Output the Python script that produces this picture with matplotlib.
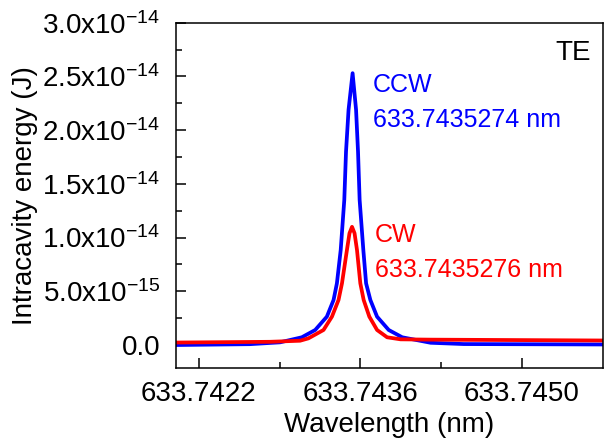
import matplotlib
matplotlib.use("Agg")
import matplotlib.pyplot as plt
from matplotlib.ticker import FixedLocator

plt.rcParams['font.family'] = ['Liberation Sans', 'DejaVu Sans']
plt.rcParams['mathtext.fontset'] = 'custom'
plt.rcParams['mathtext.rm'] = 'Liberation Sans'
plt.rcParams['mathtext.it'] = 'Liberation Sans'

# CCW (blue) curve
ccw_wl = [633.742000, 633.742643, 633.742904, 633.743093, 633.743209, 633.743310,
          633.743368, 633.743397, 633.743430, 633.743461, 633.743476, 633.743498,
          633.743533, 633.743563, 633.743580, 633.743594, 633.743626, 633.743650,
          633.743687, 633.743745, 633.743846, 633.743963, 633.744209, 633.744496,
          633.745722]
ccw_e = [0.0, 0.8e-16, 2.5e-16, 7.2e-16, 1.40e-15, 2.64e-15,
         4.19e-15, 5.74e-15, 8.85e-15, 1.35e-14, 1.80e-14, 2.19e-14,
         2.53e-14, 2.19e-14, 1.80e-14, 1.35e-14, 8.85e-15, 5.74e-15,
         4.19e-15, 2.64e-15, 1.40e-15, 7.2e-16, 2.1e-16, 0.9e-16,
         0.5e-16]

# CW (red) curve
cw_wl = [633.742000, 633.742817, 633.743078, 633.743150, 633.743281, 633.743354,
         633.743411, 633.743441, 633.743484, 633.743506, 633.743528, 633.743550,
         633.743571, 633.743600, 633.743629, 633.743678, 633.743745, 633.743832,
         633.743948, 633.744209, 633.745722]
cw_e = [2.3e-16, 3.0e-16, 4.0e-16, 6.2e-16, 1.40e-15, 2.64e-15,
        4.19e-15, 5.74e-15, 8.85e-15, 1.04e-14, 1.10e-14, 1.04e-14,
        8.85e-15, 5.74e-15, 4.19e-15, 2.64e-15, 1.40e-15, 7.2e-16,
        5.3e-16, 5.0e-16, 4.2e-16]

x_major = [633.7422, 633.7436, 633.7450]
x_minor = [633.7429, 633.7443]
x_labels = ['633.7422', '633.7436', '633.7450']
y_major = [0, 0.5e-14, 1.0e-14, 1.5e-14, 2.0e-14, 2.5e-14, 3.0e-14]
y_minor = [0.25e-14, 0.75e-14, 1.25e-14, 1.75e-14, 2.25e-14, 2.75e-14]
y_labels = ['0.0', r'5.0x10$^{-15}$', r'1.0x10$^{-14}$', r'1.5x10$^{-14}$',
            r'2.0x10$^{-14}$', r'2.5x10$^{-14}$', r'3.0x10$^{-14}$']

fig = plt.figure(figsize=(6.1, 4.45), dpi=100)
ax = fig.add_axes([0.288, 0.173, 0.700, 0.776])

ax.plot(ccw_wl, ccw_e, color='#0000ff', lw=2.7, solid_joinstyle='round')
ax.plot(cw_wl, cw_e, color='#ff0000', lw=2.7, solid_joinstyle='round')

ax.set_xlim(633.7420, 633.7457)
ax.set_ylim(-2.14e-15, 3.0e-14)

ax.xaxis.set_major_locator(FixedLocator(x_major))
ax.xaxis.set_minor_locator(FixedLocator(x_minor))
ax.set_xticklabels(x_labels)
ax.yaxis.set_major_locator(FixedLocator(y_major))
ax.yaxis.set_minor_locator(FixedLocator(y_minor))
ax.set_yticklabels(y_labels)

ax.tick_params(which='both', direction='in', labelsize=20, width=1.1)
ax.tick_params(which='major', length=7)
ax.tick_params(which='minor', length=4.5)
ax.tick_params(axis='x', pad=9)
ax.tick_params(axis='y', pad=11)
for s in ax.spines.values():
    s.set_linewidth(1.1)

ax.set_xlabel('Wavelength (nm)', fontsize=20, labelpad=4)
ax.set_ylabel('Intracavity energy (J)', fontsize=20, labelpad=3)

ax.text(0.972, 0.892, 'TE', transform=ax.transAxes, fontsize=20, ha='right', va='baseline')

ax.annotate('CCW', xy=(0, 0), xycoords='figure pixels', xytext=(373, 445 - 92),
            textcoords='figure pixels', color='#0000ff', fontsize=18)
ax.annotate('633.7435274 nm', xy=(0, 0), xycoords='figure pixels', xytext=(373, 445 - 127),
            textcoords='figure pixels', color='#0000ff', fontsize=18)
ax.annotate('CW', xy=(0, 0), xycoords='figure pixels', xytext=(375, 445 - 242),
            textcoords='figure pixels', color='#ff0000', fontsize=18)
ax.annotate('633.7435276 nm', xy=(0, 0), xycoords='figure pixels', xytext=(375, 445 - 277),
            textcoords='figure pixels', color='#ff0000', fontsize=18)

fig.savefig('out.png', dpi=100)
